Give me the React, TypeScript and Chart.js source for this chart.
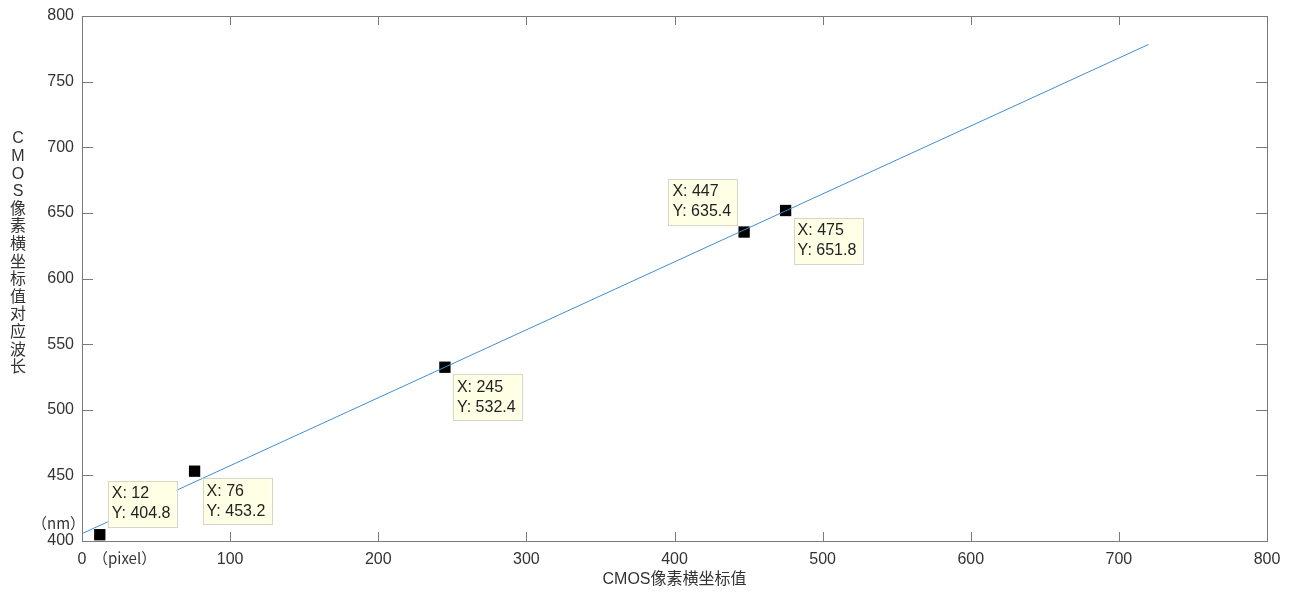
import React, { useEffect, useRef } from 'react';
import { Chart, registerables } from 'chart.js';

Chart.register(...registerables);

// Data
const pointX = [12, 76, 245, 447, 475];
const pointY = [404.8, 453.2, 532.4, 635.4, 651.8];
const fitX = [0, 720];
const fitY = [405.6, 778.3];
const xTicks = [0, 100, 200, 300, 400, 500, 600, 700, 800];
const yTicks = [400, 450, 500, 550, 600, 650, 700, 750, 800];
const xTitle = 'CMOS像素横坐标值';
const yTitle = 'CMOS像素横坐标值对应波长';
const yUnit = '（nm）';
const xUnit = '（pixel）';
// datatip placement relative to the marker (style, not data)
const tipPlacement = ['ur', 'dr', 'dr', 'ul', 'dr'];

const FONT = '"Liberation Sans", Arial, "Noto Sans CJK SC", sans-serif';
const CJK = '"Noto Sans CJK SC", sans-serif';
const AXIS = '#7a7a7a';
const TEXT = '#333333';

const decorPlugin = {
  id: 'matlabDecor',
  afterDraw(chart: any) {
    const { ctx, chartArea } = chart;
    const xs = chart.scales.x;
    const ys = chart.scales.y;
    const { left, right, top, bottom } = chartArea;
    ctx.save();
    // box
    ctx.strokeStyle = AXIS;
    ctx.lineWidth = 1;
    ctx.strokeRect(Math.round(left) + 0.5, Math.round(top) + 0.5, Math.round(right - left), Math.round(bottom - top));
    // inner ticks
    ctx.beginPath();
    xTicks.forEach((v) => {
      const p = Math.round(xs.getPixelForValue(v)) + 0.5;
      ctx.moveTo(p, bottom);
      ctx.lineTo(p, bottom - 9);
      ctx.moveTo(p, top);
      ctx.lineTo(p, top + 9);
    });
    yTicks.forEach((v) => {
      const p = Math.round(ys.getPixelForValue(v)) + 0.5;
      ctx.moveTo(left, p);
      ctx.lineTo(left + 11, p);
      ctx.moveTo(right, p);
      ctx.lineTo(right - 11, p);
    });
    ctx.stroke();

    // titles
    ctx.fillStyle = TEXT;
    ctx.font = `16px ${FONT}`;
    ctx.textAlign = 'center';
    ctx.textBaseline = 'middle';
    ctx.fillText(xTitle, (left + right) / 2, 580);
    const chars = yTitle.split('');
    chars.forEach((c, i) => {
      ctx.fillText(c, 18, 139 + i * 17.6);
    });
    ctx.textAlign = 'left';
    ctx.font = `15px ${CJK}`;
    ctx.fillText(yUnit, 32, 523);
    ctx.fillText(xUnit, 93, 558);

    // datatips
    ctx.font = `16px ${FONT}`;
    pointX.forEach((xv, i) => {
      const px = xs.getPixelForValue(xv);
      const py = ys.getPixelForValue(pointY[i]);
      const l1 = `X: ${xv}`;
      const l2 = `Y: ${pointY[i]}`;
      const w = Math.max(ctx.measureText(l1).width, ctx.measureText(l2).width) + 10;
      const h = 46;
      let bx = px + 8;
      let by = py - 8 - h;
      const pl = tipPlacement[i];
      if (pl === 'dr') { bx = px + 8; by = py + 7; }
      if (pl === 'ul') { bx = px - 7 - w; by = py - 7 - h; }
      ctx.fillStyle = '#ffffe6';
      ctx.fillRect(bx, by, w, h);
      ctx.strokeStyle = '#d6d6c8';
      ctx.strokeRect(Math.round(bx) + 0.5, Math.round(by) + 0.5, Math.round(w), h);
      ctx.fillStyle = '#222222';
      ctx.textAlign = 'left';
      ctx.textBaseline = 'middle';
      ctx.fillText(l1, bx + 4, by + 13);
      ctx.fillText(l2, bx + 4, by + 33);
    });
    ctx.restore();
  },
};

export default function App() {
  const ref = useRef<HTMLCanvasElement | null>(null);
  useEffect(() => {
    if (!ref.current) return;
    const chart = new Chart(ref.current, {
      type: 'scatter',
      data: {
        datasets: [
          {
            type: 'line',
            data: fitX.map((x, i) => ({ x, y: fitY[i] })),
            borderColor: '#3f8fd2',
            borderWidth: 1,
            pointRadius: 0,
            fill: false,
          } as any,
          {
            type: 'scatter',
            data: pointX.map((x, i) => ({ x, y: pointY[i] })),
            pointStyle: 'rect',
            pointRadius: 8,
            backgroundColor: '#000000',
            borderColor: '#000000',
            borderWidth: 0,
          },
        ],
      },
      options: {
        animation: false,
        responsive: true,
        maintainAspectRatio: false,
        layout: { padding: { top: 16, right: 29, left: 0, bottom: 0 } },
        plugins: { legend: { display: false }, tooltip: { enabled: false } },
        scales: {
          x: {
            type: 'linear',
            min: 0,
            max: 800,
            grid: { display: false },
            border: { display: false },
            afterBuildTicks: (s: any) => { s.ticks = xTicks.map((v) => ({ value: v })); },
            afterFit: (s: any) => { s.height = 55; },
            ticks: { color: TEXT, font: { size: 16, family: FONT }, padding: 1, maxRotation: 0 },
          },
          y: {
            type: 'linear',
            min: 400,
            max: 800,
            grid: { display: false },
            border: { display: false },
            afterBuildTicks: (s: any) => { s.ticks = yTicks.map((v) => ({ value: v })); },
            afterFit: (s: any) => { s.width = 82; },
            ticks: { color: TEXT, font: { size: 16, family: FONT }, padding: 0 },
          },
        },
      },
      plugins: [decorPlugin],
    });
    return () => chart.destroy();
  }, []);
  return (
    <div style={{ position: 'fixed', left: 0, top: 0, width: 1296, height: 596, background: '#fff' }}>
      <canvas ref={ref} />
    </div>
  );
}
